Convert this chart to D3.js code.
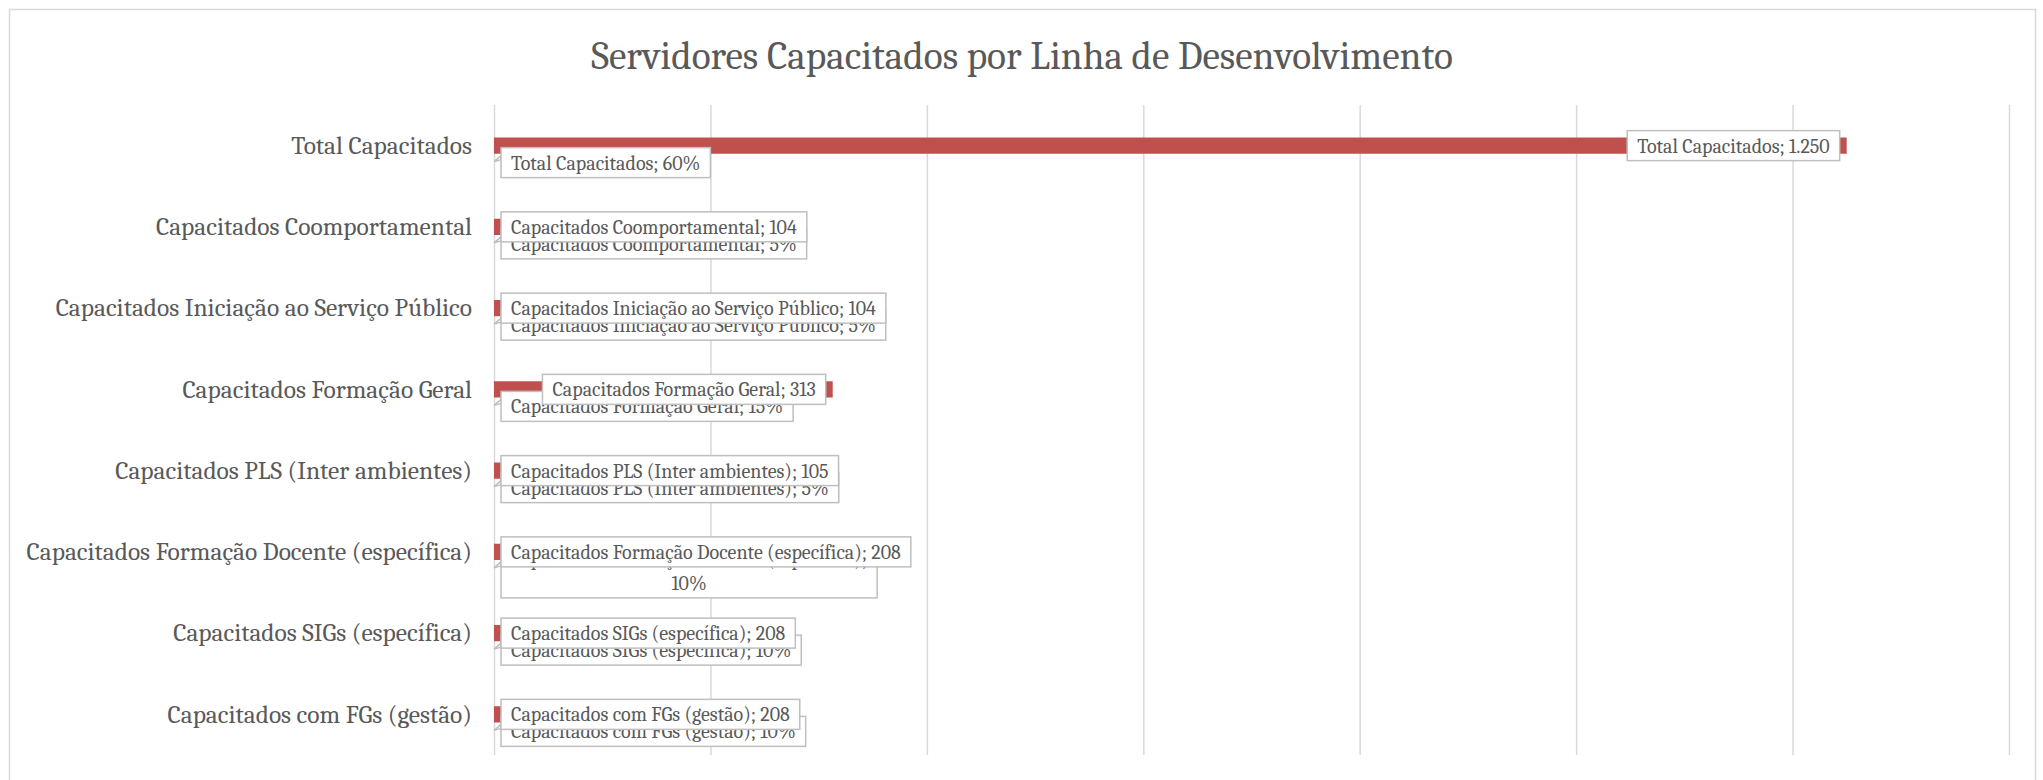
<!DOCTYPE html>
<html>
<head>
<meta charset="utf-8">
<script src="https://cdn.jsdelivr.net/npm/d3@7"></script>
<style>
  html, body { margin: 0; padding: 0; background: #fff; }
  svg { display: block; font-family: Cambria, 'Liberation Serif', serif; }
</style>
</head>
<body>
<svg width="2043" height="780"></svg>
<script>
// Data
const categories = [
	'Total Capacitados',
	'Capacitados Coomportamental',
	'Capacitados Iniciação ao Serviço Público',
	'Capacitados Formação Geral',
	'Capacitados PLS (Inter ambientes)',
	'Capacitados Formação Docente (específica)',
	'Capacitados SIGs (específica)',
	'Capacitados com FGs (gestão)',
];
const values = [1250, 104, 104, 313, 105, 208, 208, 208];
const percents = [60, 5, 5, 15, 5, 10, 10, 10];
const xTicks = [0, 200, 400, 600, 800, 1000, 1200, 1400];

const svg = d3.select('svg');
const width = 2043;
const height = 780;
const plot = { left: 494, right: 2009, top: 105, bottom: 755 };
const textColor = '#595959';
const barColor = '#C0504D';
const gridColor = '#D9D9D9';
const labelBorder = '#BFBFBF';

const ptBR = d3.formatLocale({ decimal: ',', thousands: '.', grouping: [3], currency: ['R$', ''] });
const fmt = ptBR.format(',d');

const x = d3.scaleLinear().domain([0, 1400]).range([plot.left, plot.right]);
const y = d3.scaleBand().domain(categories).range([plot.top, plot.bottom]).padding(0);
const barH = y.bandwidth() * 0.2;

// chart area border
svg.append('rect')
	.attr('x', 9.5).attr('y', 9.5)
	.attr('width', 2026).attr('height', 800)
	.attr('fill', '#fff')
	.attr('stroke', gridColor)
	.attr('stroke-width', 1.5);

// title
svg.append('text')
	.attr('x', 1022)
	.attr('y', 55)
	.attr('dy', '0.35em')
	.attr('text-anchor', 'middle')
	.attr('fill', textColor)
	.style('font-size', '39.3px')
	.text('Servidores Capacitados por Linha de Desenvolvimento');

// vertical gridlines (no tick labels in the original)
svg.append('g')
	.attr('transform', `translate(0,${plot.bottom})`)
	.call(d3.axisBottom(x).tickValues(xTicks).tickSize(-(plot.bottom - plot.top)).tickFormat(''))
	.call((g) => g.select('.domain').remove())
	.call((g) => g.selectAll('.tick line').attr('stroke', gridColor).attr('stroke-width', 1.5));

// category labels
svg.append('g')
	.attr('transform', `translate(${plot.left - 22},0)`)
	.call(d3.axisLeft(y).tickSize(0).tickPadding(0))
	.call((g) => g.select('.domain').remove())
	.call((g) => g.selectAll('.tick text')
		.attr('fill', textColor)
		.style('font-family', "Cambria, 'Liberation Serif', serif")
		.style('font-size', '25.4px'));

const data = categories.map((c, i) => ({ name: c, value: values[i], pct: percents[i] }));
const center = (d) => y(d.name) + y.bandwidth() / 2;

// bars
svg.append('g')
	.selectAll('rect')
	.data(data)
	.enter()
	.append('rect')
	.attr('x', x(0))
	.attr('y', (d) => center(d) - barH / 2)
	.attr('width', (d) => x(d.value) - x(0))
	.attr('height', barH)
	.attr('fill', barColor);

const labelSize = '20px';
const pad = 10;
const lineH = 24;

// percent callouts (second series, sits just under the value bar)
const pctG = svg.append('g');
data.forEach((d) => {
	const g = pctG.append('g');
	const full = `${d.name}; ${d.pct}%`;
	const tail = g.append('path');
	const rect = g.append('rect');
	const probe = g.append('text').style('font-size', labelSize).text(full);
	const fullW = probe.node().getComputedTextLength();
	probe.remove();
	const lines = fullW > 380 ? [`${d.name};`, `${d.pct}%`] : [full];
	const texts = lines.map((t) => g.append('text')
		.style('font-size', labelSize)
		.attr('fill', textColor)
		.attr('text-anchor', 'middle')
		.text(t));
	const w = d3.max(texts, (t) => t.node().getComputedTextLength()) + pad * 2;
	const h = 30 + lineH * (lines.length - 1);
	const left = x(0) + 7;
	const top = lines.length > 1 ? center(d) - 8 : center(d) + 2;
	rect.attr('x', left).attr('y', top).attr('width', w).attr('height', h)
		.attr('fill', '#fff').attr('stroke', labelBorder).attr('stroke-width', 1.5);
	tail.attr('d', `M${left},${center(d) + 10} L${x(0)},${center(d) + 16} L${left},${center(d) + 14}Z`)
		.attr('fill', '#fff').attr('stroke', labelBorder).attr('stroke-width', 1.5);
	texts.forEach((t, i) => t
		.attr('x', left + w / 2)
		.attr('y', top + 15 + i * lineH)
		.attr('dy', '0.35em'));
});

// value labels, inside end of each bar
const valG = svg.append('g');
data.forEach((d) => {
	const g = valG.append('g');
	const rect = g.append('rect');
	const t = g.append('text')
		.style('font-size', labelSize)
		.attr('fill', textColor)
		.attr('dy', '0.35em')
		.text(`${d.name}; ${fmt(d.value)}`);
	const w = t.node().getComputedTextLength() + pad * 2;
	const left = Math.max(x(d.value) - 7 - w, x(0) + 7);
	const top = center(d) - 15;
	rect.attr('x', left).attr('y', top).attr('width', w).attr('height', 30)
		.attr('fill', '#fff').attr('stroke', labelBorder).attr('stroke-width', 1.5);
	t.attr('x', left + pad).attr('y', center(d));
});
</script>
</body>
</html>
